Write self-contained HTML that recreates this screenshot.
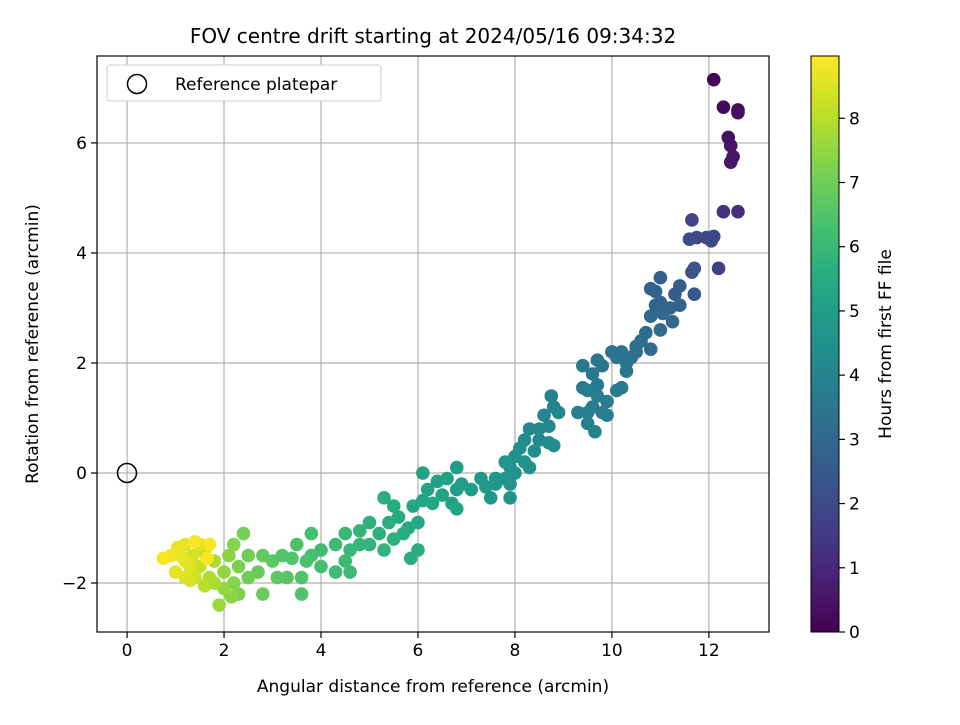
<!DOCTYPE html>
<html><head><meta charset="utf-8"><style>
body{margin:0;background:#fff;}
svg text{font-family:"DejaVu Sans","Liberation Sans",sans-serif;fill:#000;}
</style></head><body>
<svg id="chart" width="960" height="720" xmlns="http://www.w3.org/2000/svg">
<defs>
<linearGradient id="vir" x1="0" y1="1" x2="0" y2="0">
<stop offset="0" stop-color="#440154"/><stop offset="0.1" stop-color="#482475"/><stop offset="0.2" stop-color="#414487"/><stop offset="0.3" stop-color="#355f8d"/><stop offset="0.4" stop-color="#2a788e"/><stop offset="0.5" stop-color="#21918c"/><stop offset="0.6" stop-color="#22a884"/><stop offset="0.7" stop-color="#44bf70"/><stop offset="0.8" stop-color="#7ad151"/><stop offset="0.9" stop-color="#bddf26"/><stop offset="1" stop-color="#fde725"/>
</linearGradient>
<clipPath id="clip"><rect x="97" y="56" width="672" height="576"/></clipPath>
</defs>
<g id="grid"></g>
<g id="pts" clip-path="url(#clip)"></g>
<circle cx="127" cy="473" r="9.5" fill="none" stroke="#000" stroke-width="1.5"/>
<rect x="97" y="56" width="672" height="576" fill="none" stroke="#000" stroke-width="1.2"/>
<g id="ticks"></g>
<text x="433" y="43" font-size="20" text-anchor="middle">FOV centre drift starting at 2024/05/16 09:34:32</text>
<text x="433" y="692" font-size="17" text-anchor="middle">Angular distance from reference (arcmin)</text>
<text transform="translate(38,344) rotate(-90)" font-size="17" text-anchor="middle">Rotation from reference (arcmin)</text>
<g>
<rect x="107" y="65" width="274" height="36" rx="3" fill="#fff" stroke="#ccc"/>
<circle cx="137" cy="84" r="9.5" fill="none" stroke="#000" stroke-width="1.5"/>
<text x="175" y="90" font-size="17">Reference platepar</text>
</g>
<rect x="811" y="56" width="28" height="576" fill="url(#vir)" stroke="#000" stroke-width="1"/>
<g id="cbticks"></g>
<text transform="translate(891,344) rotate(-90)" font-size="17" text-anchor="middle">Hours from first FF file</text>
</svg>
<script>
const xTicks=[0,2,4,6,8,10,12];
const yTicks=[-2,0,2,4,6];
const cTicks=[0,1,2,3,4,5,6,7,8];
const xs=[12.1,12.3,12.6,12.6,12.4,12.45,12.5,12.45,12.3,12.6,12.2,11.65,11.6,11.75,11.95,12.1,12.05,11.65,11.7,11.7,11.4,11.3,11.0,10.8,10.9,11.2,11.4,11.0,10.9,11.05,11.25,10.8,11.0,10.8,10.7,10.6,10.5,10.4,10.5,10.3,10.2,10.0,10.1,9.7,9.8,10.3,9.4,9.6,9.7,10.2,10.1,9.5,9.4,9.7,9.9,9.6,9.8,9.5,9.3,9.5,9.65,9.9,8.75,8.8,8.9,8.6,8.7,8.5,8.3,8.5,8.7,8.8,8.2,8.4,8.1,8.0,8.2,7.9,8.0,7.8,8.3,7.8,7.9,7.9,7.6,7.6,7.3,7.4,7.5,7.1,6.9,6.8,6.8,6.6,6.4,6.1,6.2,6.5,6.7,6.8,6.1,6.3,5.9,6.0,5.8,5.5,5.6,5.7,5.3,5.4,5.2,5.0,5.5,6.0,5.85,5.3,5.0,4.8,4.8,4.6,4.5,4.3,4.5,4.3,4.6,4.0,3.8,3.8,4.0,3.7,3.5,3.4,3.2,3.6,3.6,3.3,3.0,3.1,2.8,2.7,2.8,2.5,2.4,2.5,2.3,2.2,2.1,2.2,2.0,2.3,2.0,1.9,2.15,1.8,1.8,1.7,1.6,1.6,1.5,1.5,1.4,1.35,1.3,1.2,1.2,1.1,1.05,1.0,0.9,0.75,1.3,1.7,1.65,1.4,1.2];
const ys=[7.15,6.65,6.6,6.55,6.1,5.95,5.75,5.65,4.75,4.75,3.72,4.6,4.25,4.28,4.28,4.3,4.22,3.65,3.72,3.25,3.4,3.25,3.55,3.35,3.3,3.0,3.05,3.1,3.05,2.9,2.75,2.85,2.6,2.25,2.55,2.4,2.3,2.1,2.2,2.0,2.2,2.2,2.1,2.05,1.95,1.85,1.95,1.8,1.6,1.55,1.5,1.5,1.55,1.4,1.3,1.2,1.1,1.1,1.1,0.9,0.75,1.05,1.4,1.2,1.1,1.05,0.85,0.8,0.8,0.6,0.55,0.5,0.6,0.4,0.45,0.3,0.2,0.1,0.0,0.2,0.1,-0.1,-0.2,-0.45,-0.1,-0.2,-0.1,-0.25,-0.45,-0.3,-0.2,-0.3,0.1,-0.1,-0.15,0.0,-0.3,-0.4,-0.55,-0.65,-0.5,-0.55,-0.6,-0.9,-1.0,-0.6,-0.8,-1.1,-0.45,-0.9,-1.1,-0.9,-1.2,-1.4,-1.55,-1.4,-1.3,-1.05,-1.3,-1.4,-1.1,-1.3,-1.6,-1.8,-1.8,-1.4,-1.1,-1.5,-1.7,-1.6,-1.3,-1.55,-1.5,-1.9,-2.2,-1.9,-1.6,-1.9,-1.5,-1.8,-2.2,-1.5,-1.1,-1.9,-1.7,-1.3,-1.5,-2.0,-1.8,-2.2,-2.1,-2.4,-2.25,-1.6,-2.0,-1.9,-1.45,-2.05,-1.7,-1.3,-1.9,-1.5,-1.7,-1.3,-1.6,-1.5,-1.35,-1.8,-1.5,-1.55,-1.95,-1.3,-1.55,-1.25,-1.9];
const hours=[0.1,0.2,0.3,0.35,0.4,0.45,0.5,0.55,1.3,1.2,1.6,1.8,2.0,2.0,1.9,1.9,1.9,2.3,2.3,2.5,2.6,2.6,2.7,2.8,2.8,2.9,2.8,2.9,2.9,3.0,3.0,3.0,3.1,3.1,3.2,3.2,3.3,3.3,3.3,3.4,3.4,3.4,3.5,3.5,3.5,3.5,3.6,3.6,3.6,3.6,3.7,3.7,3.7,3.7,3.8,3.8,3.8,3.8,3.9,3.9,3.9,3.8,4.0,4.0,4.1,4.1,4.1,4.2,4.2,4.2,4.3,4.3,4.3,4.4,4.4,4.4,4.5,4.5,4.5,4.6,4.5,4.6,4.6,4.6,4.7,4.7,4.8,4.8,4.8,4.9,4.9,5.0,5.0,5.1,5.1,5.1,5.2,5.2,5.2,5.3,5.3,5.3,5.4,5.4,5.5,5.5,5.5,5.6,5.6,5.6,5.7,5.7,5.7,5.6,5.6,5.8,5.8,5.9,5.9,6.0,6.0,6.1,6.1,6.1,6.1,6.2,6.3,6.3,6.3,6.4,6.4,6.5,6.5,6.5,6.5,6.6,6.7,6.7,6.8,6.9,6.9,7.0,7.1,7.0,7.2,7.3,7.4,7.3,7.5,7.2,7.5,7.6,7.4,7.8,7.8,7.9,8.1,8.0,8.2,8.5,8.3,8.4,8.5,8.6,8.6,8.7,8.7,8.6,8.8,8.9,8.4,8.9,8.95,8.9,8.5];
const X0=97,X1=769,Y0=632,Y1=56,xmin=-0.62,xmax=13.24,ymin=-2.89,ymax=7.58,cmax=8.97;
const sx=v=>X0+(v-xmin)/(xmax-xmin)*(X1-X0);
const sy=v=>Y0-(v-ymin)/(ymax-ymin)*(Y0-Y1);
const sc=v=>632-v/cmax*576;
const V=[[68,1,84],[72,36,117],[65,68,135],[53,95,141],[42,120,142],[33,145,140],[34,168,132],[68,191,112],[122,209,81],[189,223,38],[253,231,37]];
function vir(t){t=Math.max(0,Math.min(1,t))*10;const i=Math.min(9,Math.floor(t)),f=t-i;const c=V[i].map((a,k)=>Math.round(a+(V[i+1][k]-a)*f));return `rgb(${c})`;}
const NS="http://www.w3.org/2000/svg";
function mk(tag,attrs,parent){const e=document.createElementNS(NS,tag);for(const k in attrs)e.setAttribute(k,attrs[k]);parent.appendChild(e);return e;}
const grid=document.getElementById('grid'),ticks=document.getElementById('ticks'),pts=document.getElementById('pts'),cb=document.getElementById('cbticks');
xTicks.forEach(v=>{const x=sx(v);
const g=mk('line',{x1:x,x2:x,y1:Y1,y2:Y0,stroke:'#b0b0b0','stroke-width':1.2},grid);


mk('line',{x1:x,x2:x,y1:Y0,y2:Y0+6,stroke:'#000','stroke-width':1.2},ticks);
const t=mk('text',{x:x,y:Y0+24,'font-size':17,'text-anchor':'middle'},ticks);t.textContent=v;

});
yTicks.forEach(v=>{const y=sy(v);
const g=mk('line',{x1:X0,x2:X1,y1:y,y2:y,stroke:'#b0b0b0','stroke-width':1.2},grid);


mk('line',{x1:X0-6,x2:X0,y1:y,y2:y,stroke:'#000','stroke-width':1.2},ticks);
const t=mk('text',{x:X0-10,y:y+6,'font-size':17,'text-anchor':'end'},ticks);t.textContent=(v<0?'\u2212':'')+Math.abs(v);

});
cTicks.forEach(v=>{const y=sc(v);
mk('line',{x1:839,x2:845,y1:y,y2:y,stroke:'#000','stroke-width':1.2},cb);
const t=mk('text',{x:849,y:y+6,'font-size':17},cb);t.textContent=v;

});
const idx=xs.map((_,i)=>i).sort((a,b)=>hours[a]-hours[b]);
idx.forEach(i=>{const c=mk('circle',{cx:sx(xs[i]),cy:sy(ys[i]),r:6.8,fill:vir(hours[i]/cmax)},pts);

});
</script>
</body></html>
